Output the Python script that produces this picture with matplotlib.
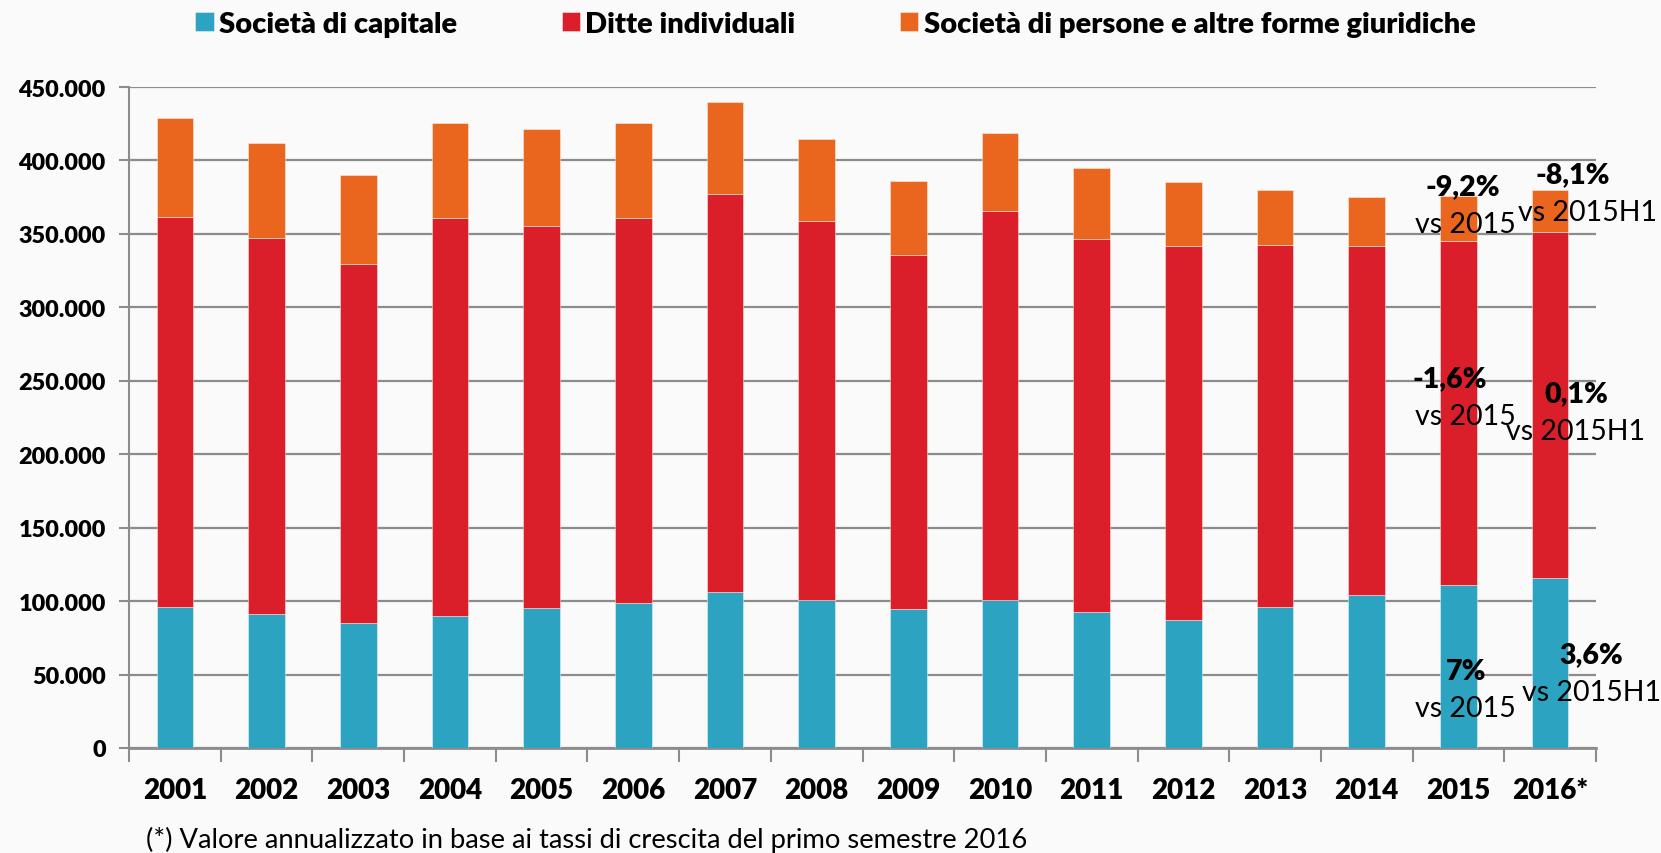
import matplotlib
matplotlib.use("Agg")
import matplotlib.pyplot as plt
from matplotlib.ticker import FuncFormatter, FixedLocator
import numpy as np

plt.rcParams['font.family'] = ['Lato', 'DejaVu Sans']

years = ['2001', '2002', '2003', '2004', '2005', '2006', '2007', '2008',
         '2009', '2010', '2011', '2012', '2013', '2014', '2015', '2016*']
capitale = [96300, 91400, 85300, 89600, 95400, 99000, 106000, 100800,
            94400, 100800, 92300, 87400, 95700, 103900, 111200, 115500]
ditte = [265300, 255600, 244000, 271100, 260100, 261700, 270900, 258100,
         241300, 264800, 254100, 254400, 246800, 237900, 234000, 235800]
persone = [67100, 64600, 61000, 64900, 65600, 64900, 63000, 55400,
           50600, 53000, 48500, 43600, 37100, 33600, 30800, 28600]
series_names = ['Società di capitale', 'Ditte individuali',
                'Società di persone e altre forme giuridiche']
colors = ['#2CA3C0', '#DA1F2A', '#EA651E']

# annotations: (text, x position in category units, y value)
notes_pct = [('-9,2%', 14.05, 382600), ('-8,1%', 15.25, 390800),
             ('-1,6%', 13.91, 251900), ('0,1%', 15.28, 241700),
             ('7%', 14.08, 52400), ('3,6%', 15.45, 64000)]
notes_vs = [('vs 2015', 14.08, 356700), ('vs 2015H1', 15.41, 364900),
            ('vs 2015', 14.07, 226000), ('vs 2015H1', 15.28, 216100),
            ('vs 2015', 14.08, 27200), ('vs 2015H1', 15.45, 38100)]
footnote = '(*) Valore annualizzato in base ai tassi di crescita del primo semestre 2016'

bg = '#FAFAFA'
grid_c = '#8C8C8C'

fig = plt.figure(figsize=(16.61, 8.54), dpi=100, facecolor=bg)
ax = fig.add_axes([129/1661, 105/854, (1596-129)/1661, 661/854])
ax.set_facecolor(bg)

x = np.arange(len(years))
w = 0.40
cap = np.array(capitale)
dit = np.array(ditte)
per = np.array(persone)
b1 = ax.bar(x, cap, w, color=colors[0], edgecolor='#FFFFFF80', linewidth=0.6, zorder=3)
b2 = ax.bar(x, dit, w, bottom=cap, color=colors[1], edgecolor='#FFFFFF80', linewidth=0.6, zorder=3)
b3 = ax.bar(x, per, w, bottom=cap + dit, color=colors[2], edgecolor='#FFFFFF80', linewidth=0.6, zorder=3)

ax.set_xlim(-0.5, len(years) - 0.5)
ax.set_ylim(0, 450000)
ax.yaxis.set_major_locator(FixedLocator(np.arange(0, 450001, 50000)))
ax.yaxis.set_major_formatter(FuncFormatter(lambda v, p: f"{int(v):,}".replace(',', '.')))
ax.grid(axis='y', color=grid_c, linewidth=1.6, zorder=0)
ax.set_axisbelow(True)

ax.set_xticks(x)
ax.set_xticklabels(years)
ax.set_xticks(np.arange(-0.5, len(years)), minor=True)
ax.tick_params(axis='x', which='major', length=0, pad=21, labelsize=20)
ax.tick_params(axis='x', which='minor', length=10, width=1.5, color=grid_c)
ax.tick_params(axis='y', length=7, width=1.5, color=grid_c, pad=9.7, labelsize=16.8)
for lab in ax.get_xticklabels() + ax.get_yticklabels():
    lab.set_fontweight('heavy')

for s in ['top', 'right']:
    ax.spines[s].set_visible(False)
ax.spines['left'].set_color(grid_c)
ax.spines['left'].set_linewidth(1.5)
ax.spines['bottom'].set_color(grid_c)
ax.spines['bottom'].set_linewidth(2)

for t, xx, yy in notes_pct:
    ax.text(xx, yy, t, ha='center', va='center', fontsize=20.5, fontweight='heavy',
            color='black', zorder=5, clip_on=False)
for t, xx, yy in notes_vs:
    ax.text(xx, yy, t, ha='center', va='center', fontsize=20.5,
            color='black', zorder=5, clip_on=False)

leg = fig.legend([b1, b2, b3], series_names, loc='center', bbox_to_anchor=(0.503, 0.971),
                 ncol=3, frameon=False, handlelength=0.62, handleheight=0.62,
                 handletextpad=0.18, columnspacing=3.6,
                 prop={'size': 21.0, 'weight': 'heavy'})

fig.text(146/1661, 1 - 840/854, footnote, ha='left', va='center', fontsize=19.7)

fig.savefig('out.png', dpi=100, facecolor=bg)
